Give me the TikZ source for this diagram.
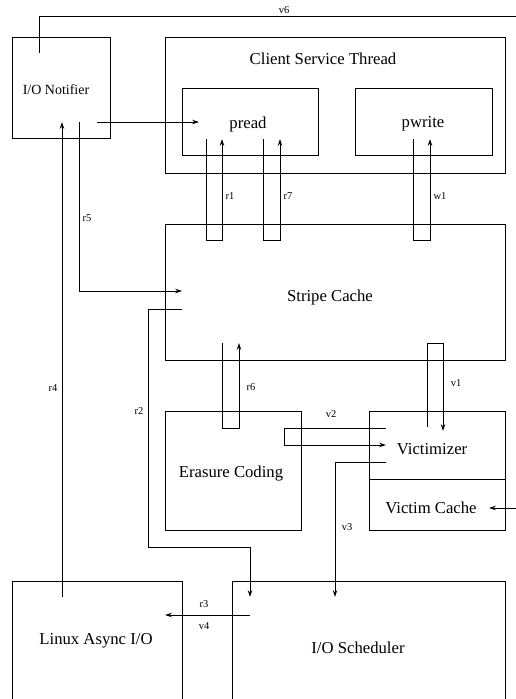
\documentclass[tikz,border=0pt]{standalone}
\usepackage{fontspec}
\setmainfont{Liberation Serif}
\usetikzlibrary{positioning,arrows.meta}

\tikzset{
  box/.style={draw, line width=0.8pt, inner sep=0pt},
  boxtext/.style={font=\fontsize{16.7}{20}\selectfont},
  smalltext/.style={font=\fontsize{14}{17}\selectfont},
  lbl/.style={font=\fontsize{10.5}{12}\selectfont, inner sep=1pt},
  wire/.style={line width=0.8pt},
  flow/.style={line width=0.8pt, -{Stealth[length=7pt,width=4.5pt,inset=2.5pt]}}
}

\begin{document}
\begin{tikzpicture}[x=1pt,y=-1pt]
  \useasboundingbox (0,0) rectangle (516,699);
  \clip (0,0) rectangle (516,699);

  % boxes
  \node[box, minimum width=98, minimum height=101] (notifier) at (61,87.5) {};
  \node[smalltext] (notifiertext) at (56,90) {I/O Notifier};
  \node[box, minimum width=340, minimum height=136] (client) at (335,105) {};
  \node[boxtext] (clienttext) at (323,59) {Client Service Thread};
  \node[box, minimum width=136, minimum height=67] (pread) at (250,121.5) {};
  \node[boxtext] (preadtext) at (248,124) {pread};
  \node[box, minimum width=137, minimum height=67] (pwrite) at (423.5,121.5) {};
  \node[boxtext] (pwritetext) at (423,124) {pwrite};
  \node[box, minimum width=340, minimum height=136] (stripe) at (335,292) {};
  \node[boxtext] (stripetext) at (330,297) {Stripe Cache};
  \node[box, minimum width=136, minimum height=119] (erasure) at (233,470.5) {};
  \node[boxtext] (erasuretext) at (231,474) {Erasure Coding};
  \node[box, minimum width=136, minimum height=68] (victimizer) at (437,445) {};
  \node[boxtext] (victimizertext) at (432,449) {Victimizer};
  \node[box, minimum width=136, minimum height=51] (victimcache) at (437,504.5) {};
  \node[boxtext] (victimcachetext) at (431,508) {Victim Cache};
  \node[box, minimum width=170, minimum height=129] (linuxaio) at (97,645.5) {};
  \node[boxtext] (linuxaiotext) at (96,641) {Linux Async I/O};
  \node[box, minimum width=273, minimum height=129] (scheduler) at (368.5,645.5) {};
  \node[boxtext] (schedulertext) at (358,648) {I/O Scheduler};

  % connector ends
  \coordinate (v6s) at (39,53);
  \coordinate (v6e) at (516,16);
  \coordinate (nout) at (97,122);
  \coordinate (pin) at (199,122);
  \coordinate (r4s) at (62,597);
  \coordinate (r4e) at (62,122);
  \coordinate (r5s) at (79,122);
  \coordinate (r5e) at (182,291);
  \coordinate (r1s) at (206,139);
  \coordinate (r1e) at (222,139);
  \coordinate (r7s) at (263,139);
  \coordinate (r7e) at (280,139);
  \coordinate (w1s) at (413,139);
  \coordinate (w1e) at (430,139);
  \coordinate (r6s) at (222,343);
  \coordinate (r6e) at (239,343);
  \coordinate (v1s) at (427,427);
  \coordinate (v1e) at (443,431);
  \coordinate (v2s) at (386,428);
  \coordinate (v2e) at (386,445);
  \coordinate (v3s) at (386,462);
  \coordinate (v3e) at (335,597);
  \coordinate (r2s) at (182,309);
  \coordinate (r2c) at (148,547);
  \coordinate (r2e) at (250,597);
  \coordinate (r3s) at (250,615);
  \coordinate (r3e) at (165,615);
  \coordinate (vcs) at (516,508);
  \coordinate (vce) at (489,508);

  % connectors
  \draw[wire] (v6s) |- (v6e);
  \draw[flow] (nout) -- (pin);
  \draw[flow] (r4s) -- (r4e);
  \draw[flow] (r5s) |- (r5e);
  \draw[flow] (r1s) -- ++(0,101) -| (r1e);
  \draw[flow] (r7s) -- ++(0,101) -| (r7e);
  \draw[flow] (w1s) -- ++(0,101) -| (w1e);
  \draw[flow] (r6s) -- ++(0,85) -| (r6e);
  \draw[flow] (v1s) -- ++(0,-84) -| (v1e);
  \draw[flow] (v2s) -- ++(-102,0) |- (v2e);
  \draw[flow] (v3s) -| (v3e);
  \draw[flow] (r2s) -| (r2c) -| (r2e);
  \draw[flow] (r3s) -- (r3e);
  \draw[flow] (vcs) -- (vce);

  % labels
  \node[lbl] (v6) at (284,10) {v6};
  \node[lbl] (r4) at (53,388) {r4};
  \node[lbl] (r5) at (87,218) {r5};
  \node[lbl] (r1) at (230,196) {r1};
  \node[lbl] (r7) at (288,196) {r7};
  \node[lbl] (w1) at (440,196) {w1};
  \node[lbl] (r6) at (251,387) {r6};
  \node[lbl] (v1) at (456,383) {v1};
  \node[lbl] (v2) at (331,414) {v2};
  \node[lbl] (v3) at (347,527) {v3};
  \node[lbl] (r2) at (139,411) {r2};
  \node[lbl] (r3) at (204,604) {r3};
  \node[lbl] (v4) at (204,626) {v4};
\end{tikzpicture}
\end{document}
